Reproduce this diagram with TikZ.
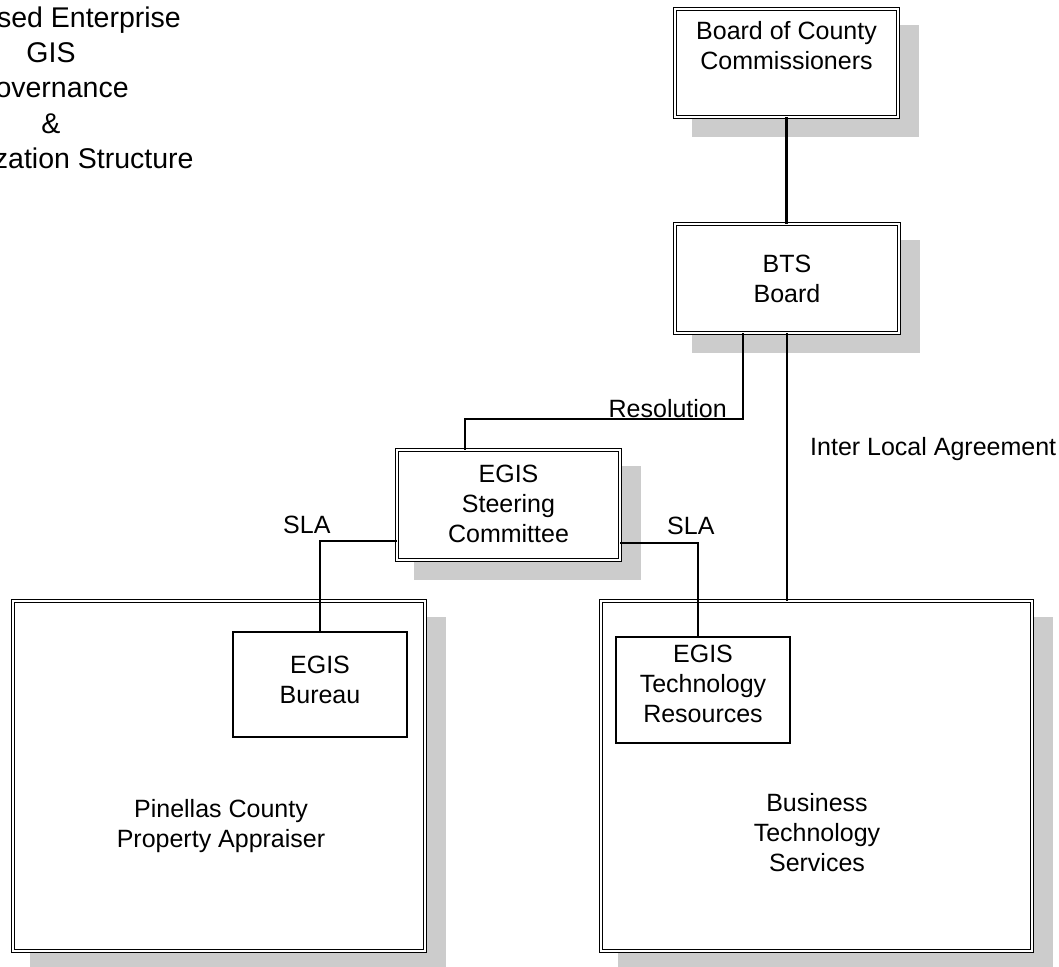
\documentclass[tikz,border=0pt]{standalone}
\usepackage{fontspec}
\setmainfont{Liberation Sans}
\usetikzlibrary{backgrounds}
\definecolor{shadowgray}{RGB}{204,204,204}
\begin{document}
\begin{tikzpicture}[x=1pt,y=-1pt,
  dbox/.style 2 args={draw, double=white, double distance=2.2pt, line width=1.3pt,
    fill=white, inner sep=0pt, outer sep=0pt, minimum width=#1pt, minimum height=#2pt},
  sbox/.style 2 args={draw, line width=1.5pt, fill=white, inner sep=0pt, outer sep=0pt,
    minimum width=#1pt, minimum height=#2pt},
  txt/.style={inner sep=0pt, anchor=base, font=\fontsize{25}{30}\selectfont},
  conn/.style={line width=2.4pt},
  shadow/.style={fill=shadowgray}]
\useasboundingbox (0,0) rectangle (1059,966);

% boxes
\node[dbox={223}{108}] (board) at (786.5,63) {};
\node[dbox={224}{109}] (bts) at (787,278.5) {};
\node[dbox={223}{110}] (steer) at (508.5,505) {};
\node[dbox={412}{350}] (pca) at (219,776) {};
\node[dbox={431}{350}] (bts2) at (816.5,776) {};
\node[sbox={174}{105}] (bureau) at (320,684.5) {};
\node[sbox={174}{106}] (tech) at (703,690) {};

% shadows and page background
\begin{pgfonlayer}{background}
  \fill[white] (0,0) rectangle (1059,966);
  \foreach \n in {board,bts,steer,pca,bts2}
    \fill[shadow] ([shift={(17,16)}]\n.north west) rectangle ([shift={(21,20)}]\n.south east);
\end{pgfonlayer}

% connector bend points
\coordinate (c1) at (743,419);
\coordinate (c2) at (465,419);
\coordinate (c3) at (320,541);
\coordinate (c4) at (698,543);

% connectors
\draw[conn] (board.south) -- (board.south |- bts.north);
\draw[conn] (bts.south -| c1) -- (c1) -- (c2) -- (steer.north -| c2);
\draw[conn] (steer.west |- c3) -- (c3) -- (bureau.north);
\draw[conn] (steer.east |- c4) -- (c4) -- (tech.north -| c4);
\draw[conn] (bts.south) -- (bts.south |- bts2.north);

% box texts
\node[txt] (boardt) at (786.5,40) {\begin{tabular}[t]{@{}c@{}}Board of County\\Commissioners\end{tabular}};
\node[txt] (btst) at (787,272) {\begin{tabular}[t]{@{}c@{}}BTS\\Board\end{tabular}};
\node[txt] (steert) at (508.5,482) {\begin{tabular}[t]{@{}c@{}}EGIS\\Steering\\Committee\end{tabular}};
\node[txt] (bureaut) at (320,673) {\begin{tabular}[t]{@{}c@{}}EGIS\\Bureau\end{tabular}};
\node[txt] (techt) at (703,662) {\begin{tabular}[t]{@{}c@{}}EGIS\\Technology\\Resources\end{tabular}};
\node[txt] (pcat) at (221,817) {\begin{tabular}[t]{@{}c@{}}Pinellas County\\Property Appraiser\end{tabular}};
\node[txt] (bts2t) at (817,811) {\begin{tabular}[t]{@{}c@{}}Business\\Technology\\Services\end{tabular}};

% connector labels
\node[txt, anchor=base east] (resl) at (727,417) {Resolution};
\node[txt, anchor=base west] (ila) at (810,455) {Inter Local Agreement};
\node[txt, anchor=base west] (sla1) at (283,533) {SLA};
\node[txt, anchor=base west] (sla2) at (667,534) {SLA};

% title (partly outside the page, as in the reference)
\node[inner sep=0pt, anchor=base, font=\fontsize{28.5}{35}\selectfont] (title) at (51,28)
  {\begin{tabular}[t]{@{}c@{}}Proposed Enterprise\\GIS\\Governance\\\&\\Organization Structure\end{tabular}};
\end{tikzpicture}
\end{document}
